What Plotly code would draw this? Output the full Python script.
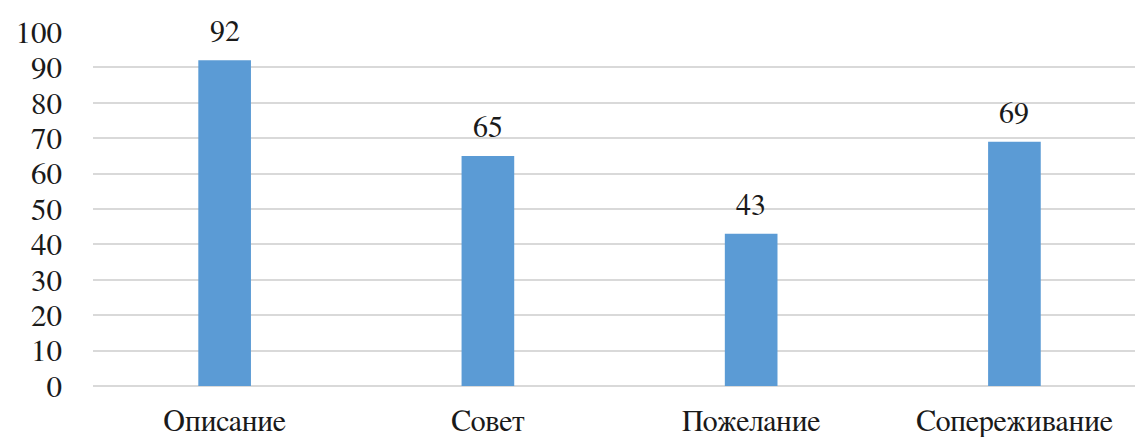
import plotly.graph_objects as go

categories = ["Описание", "Совет", "Пожелание", "Сопереживание"]
values = [92, 65, 43, 69]
y_ticks = [0, 10, 20, 30, 40, 50, 60, 70, 80, 90, 100]

FONT = "FreeSerif"

fig = go.Figure()
fig.add_trace(go.Bar(
    x=list(range(len(categories))),
    y=values,
    width=0.2,
    marker=dict(color="#5b9bd5", line=dict(width=0)),
    hoverinfo="skip",
))

for i, v in enumerate(values):
    fig.add_annotation(x=i, y=v, text=str(v), showarrow=False,
                       yshift=28, font=dict(family=FONT, size=30, color="#1a1a1a"))

fig.update_layout(
    width=1135, height=437,
    margin=dict(l=93, r=0, t=32, b=51),
    paper_bgcolor="white", plot_bgcolor="white",
    showlegend=False,
    font=dict(family=FONT, size=30, color="#1a1a1a"),
)
fig.update_xaxes(
    range=[-0.5, 3.458],
    tickmode="array", tickvals=list(range(len(categories))), ticktext=categories,
    showgrid=False, showline=False, zeroline=False, ticks="",
    ticklabelstandoff=14,
    tickfont=dict(family=FONT, size=30, color="#1a1a1a"),
)
fig.update_yaxes(
    range=[0, 100],
    tickmode="array", tickvals=y_ticks,
    showgrid=True, gridcolor="#d9d9d9", gridwidth=1.5,
    zeroline=True, zerolinecolor="#d9d9d9", zerolinewidth=1.5,
    showline=False, ticks="",
    ticklabelstandoff=30,
    tickfont=dict(family=FONT, size=31, color="#1a1a1a"),
)

fig.write_html("out.html")
